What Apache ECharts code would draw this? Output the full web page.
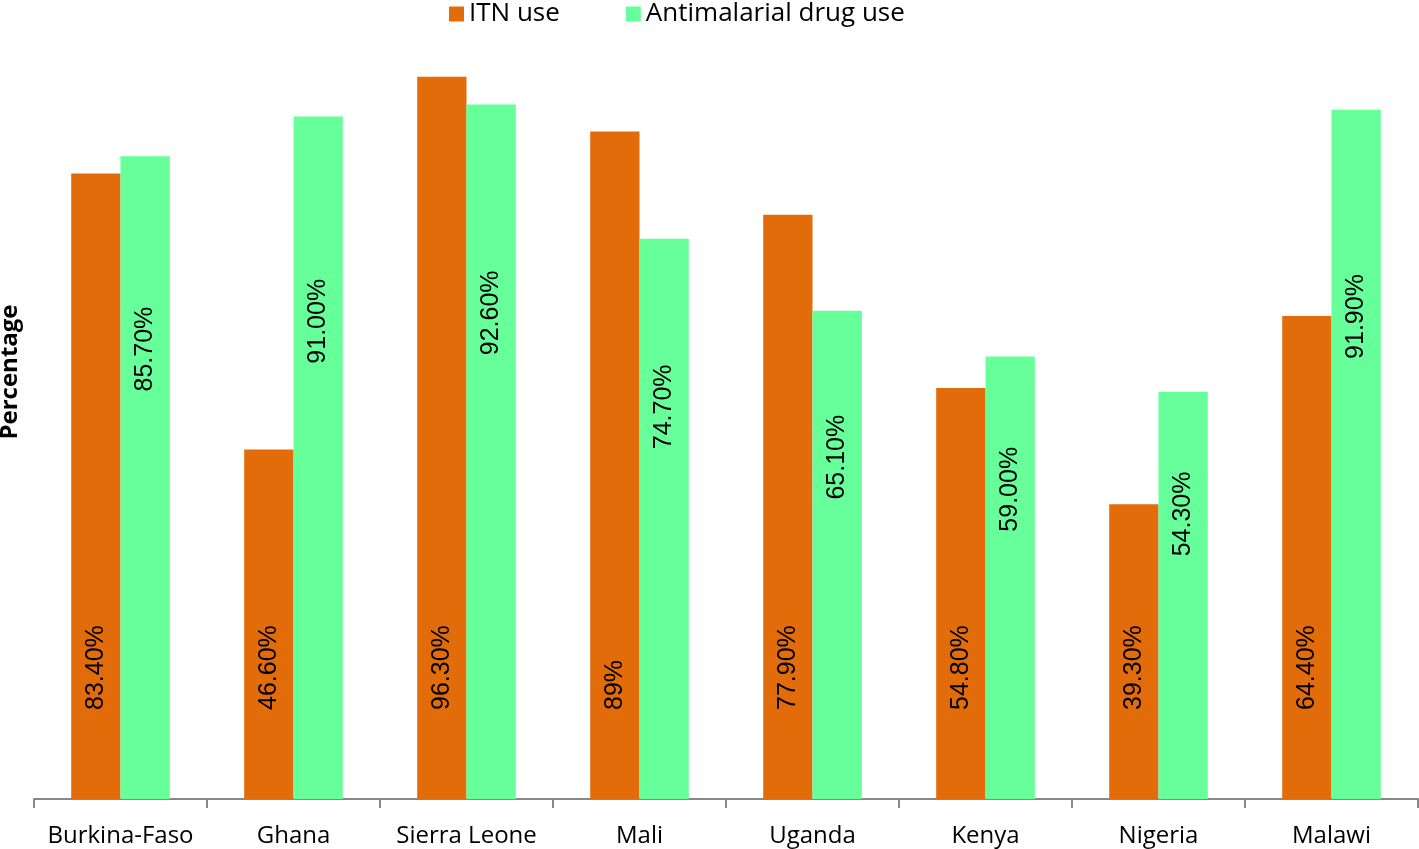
<!DOCTYPE html>
<html>
<head>
<meta charset="utf-8">
<script src="https://cdn.jsdelivr.net/npm/echarts@6/dist/echarts.min.js"></script>
<style>html,body{margin:0;padding:0;background:#fff}#c{width:1419px;height:849px}</style>
</head>
<body>
<div id="c"></div>
<script>
const categories = ['Burkina-Faso','Ghana','Sierra Leone','Mali','Uganda','Kenya','Nigeria','Malawi'];
const itnUse = [83.4, 46.6, 96.3, 89, 77.9, 54.8, 39.3, 64.4];
const itnLabels = ['83.40%','46.60%','96.30%','89%','77.90%','54.80%','39.30%','64.40%'];
const drugUse = [85.7, 91.0, 92.6, 74.7, 65.1, 59.0, 54.3, 91.9];
const drugLabels = ['85.70%','91.00%','92.60%','74.70%','65.10%','59.00%','54.30%','91.90%'];

const chart = echarts.init(document.getElementById('c'));
const uiFont = 'Open Sans';
chart.setOption({
  animation: false,
  legend: {
    top: -4, left: 444,
    itemWidth: 15, itemHeight: 15, itemGap: 66,
    icon: 'rect',
    textStyle: { fontFamily: uiFont, fontSize: 26, color: '#000' },
    data: ['ITN use', 'Antimalarial drug use']
  },
  grid: { left: 34, right: 1, top: 49, bottom: 50, containLabel: false, outerBoundsMode: 'none' },
  xAxis: {
    type: 'category',
    data: categories,
    axisLine: { lineStyle: { color: '#888', width: 2 } },
    axisTick: { show: true, length: 9, lineStyle: { color: '#888', width: 2 } },
    axisLabel: { fontFamily: uiFont, fontSize: 24, color: '#000', margin: 25, interval: 0 }
  },
  yAxis: {
    type: 'value', min: 0, max: 100,
    name: 'Percentage', nameLocation: 'middle', nameGap: 12,
    nameTextStyle: { fontFamily: uiFont, fontSize: 24, fontWeight: 'bold', color: '#000', padding: [0, 0, 0, 104] },
    axisLine: { show: false }, axisTick: { show: false },
    axisLabel: { show: false }, splitLine: { show: false }
  },
  series: [
    {
      name: 'ITN use', type: 'bar', data: itnUse,
      barGap: '0%', barCategoryGap: '43%',
      itemStyle: { color: '#E36C0A' },
      label: {
        show: true, rotate: 90,
        position: ['50%', '100%'], offset: [89, 0],
        align: 'left', verticalAlign: 'middle',
        fontFamily: 'Liberation Sans', fontSize: 25, color: '#000',
        formatter: p => itnLabels[p.dataIndex]
      }
    },
    {
      name: 'Antimalarial drug use', type: 'bar', data: drugUse,
      itemStyle: { color: '#66FF99' },
      label: {
        show: true, rotate: 90,
        position: ['50%', '30%'],
        align: 'center', verticalAlign: 'middle',
        fontFamily: 'Liberation Sans', fontSize: 25, color: '#000',
        formatter: p => drugLabels[p.dataIndex]
      }
    }
  ]
});
</script>
</body>
</html>
